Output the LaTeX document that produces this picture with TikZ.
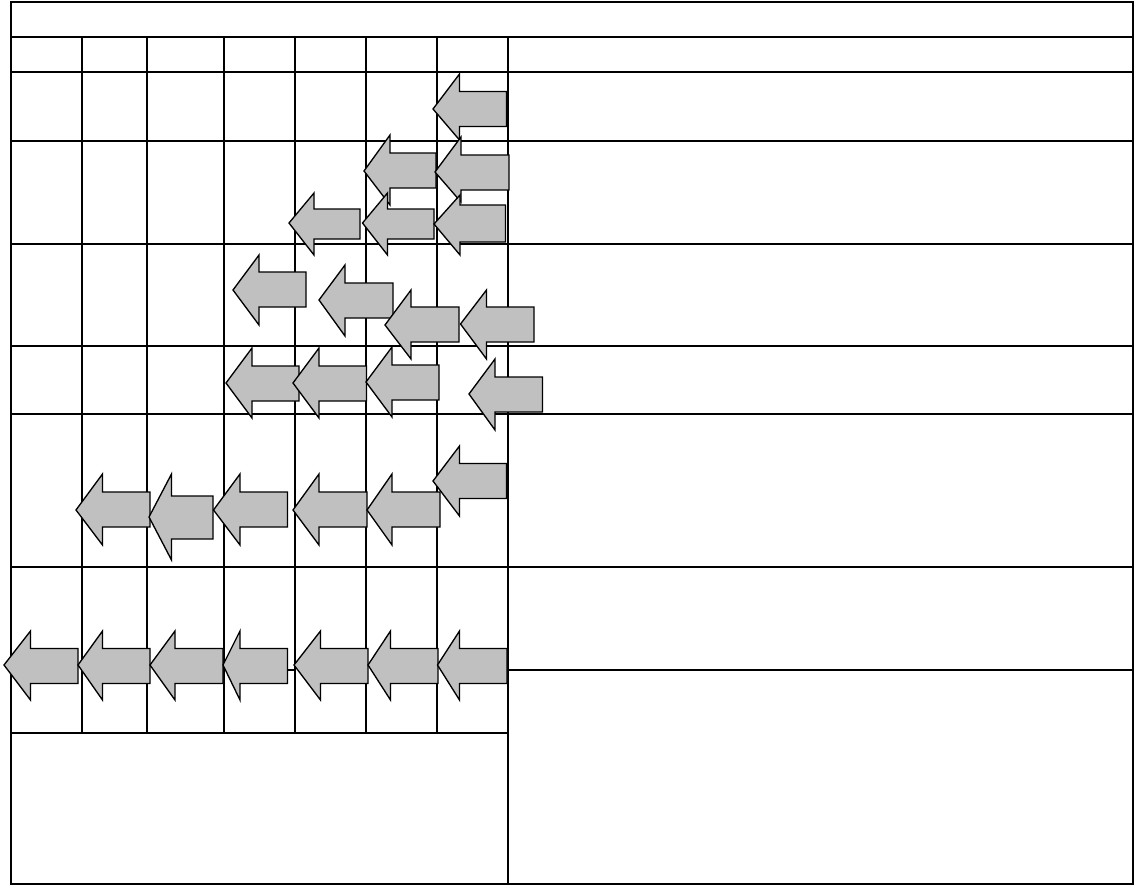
\documentclass[tikz,border=0pt]{standalone}
\begin{document}
\begin{tikzpicture}[x=0.75pt,y=-0.75pt,
  gridline/.style={line width=1.5pt,black},
  arw/.style={draw=black,line width=1pt,fill={rgb,255:red,192;green,192;blue,192},line join=miter}]
\useasboundingbox (0,0) rectangle (1140,885);
\newcommand{\larw}[8]{\draw[arw] (#1,#2) -- (#3,#4) -- (#3,#6) -- (#8,#6) -- (#8,#7) -- (#3,#7) -- (#3,#5) -- cycle;}
% outer frame
\draw[gridline] (11,2) rectangle (1133,884);
% full-width horizontal lines
\foreach \y in {37,72,141,244,346,414,567} \draw[gridline] (11,\y) -- (1133,\y);
\draw[gridline] (11,733) -- (508,733);
\draw[gridline] (508,670) -- (1133,670);
\draw[gridline] (287,670) -- (295,670);
% vertical lines
\foreach \x in {82,147,224,295,366,437} \draw[gridline] (\x,37) -- (\x,733);
\draw[gridline] (508,37) -- (508,884);
% arrows: tipx, tipy, headbase x, head top, head bottom, shaft top, shaft bottom, right x
\larw{433}{109}{459.5}{74}{140}{91.5}{126.5}{506.5}
\larw{364}{171}{390}{135}{205}{153}{188}{436}
\larw{435}{172}{461}{137}{202}{155}{190}{509}
\larw{289}{223}{314}{193}{255}{209}{239}{360}
\larw{362.5}{223}{387.5}{193}{255}{209}{239}{434}
\larw{434}{224}{460}{195}{255}{205}{242}{505.5}
\larw{233}{290}{259}{255}{325}{272}{307}{306}
\larw{319}{300}{345}{265}{336}{283}{318}{393}
\larw{385}{325}{411}{290}{359}{307}{342}{459}
\larw{460.5}{324}{486.5}{290}{359}{307}{342}{534}
\larw{226}{383}{252}{348}{418}{366}{401}{299}
\larw{293}{383}{319}{348}{418}{366}{401}{366.5}
\larw{366}{382}{392}{347}{417}{365}{400}{439}
\larw{469}{394}{495}{359}{430}{377}{412}{542.5}
\larw{433}{481}{459.5}{446}{516}{463.5}{498.5}{506.5}
\larw{76}{510}{102.5}{474}{545}{492}{527}{150}
\larw{149}{517}{171.5}{474}{560}{496}{539}{213}
\larw{213.5}{510}{240}{474}{545}{492}{527}{287.5}
\larw{293}{510}{319}{474}{545}{492}{527}{367}
\larw{367}{510}{392}{474}{545}{492}{527}{440}
\larw{4}{665}{30.5}{631}{700}{648.5}{683.5}{78}
\larw{78}{665}{102.5}{631}{700}{648.5}{683.5}{150}
\larw{150}{665}{175}{631}{700}{648.5}{683.5}{223}
\larw{223}{665}{240}{631}{700}{648.5}{683.5}{287.5}
\larw{294}{665}{320.5}{631}{700}{648.5}{683.5}{368}
\larw{368}{665}{390.5}{631}{700}{648.5}{683.5}{438}
\larw{437.5}{665}{459.5}{631}{700}{648.5}{683.5}{507}
\end{tikzpicture}
\end{document}
